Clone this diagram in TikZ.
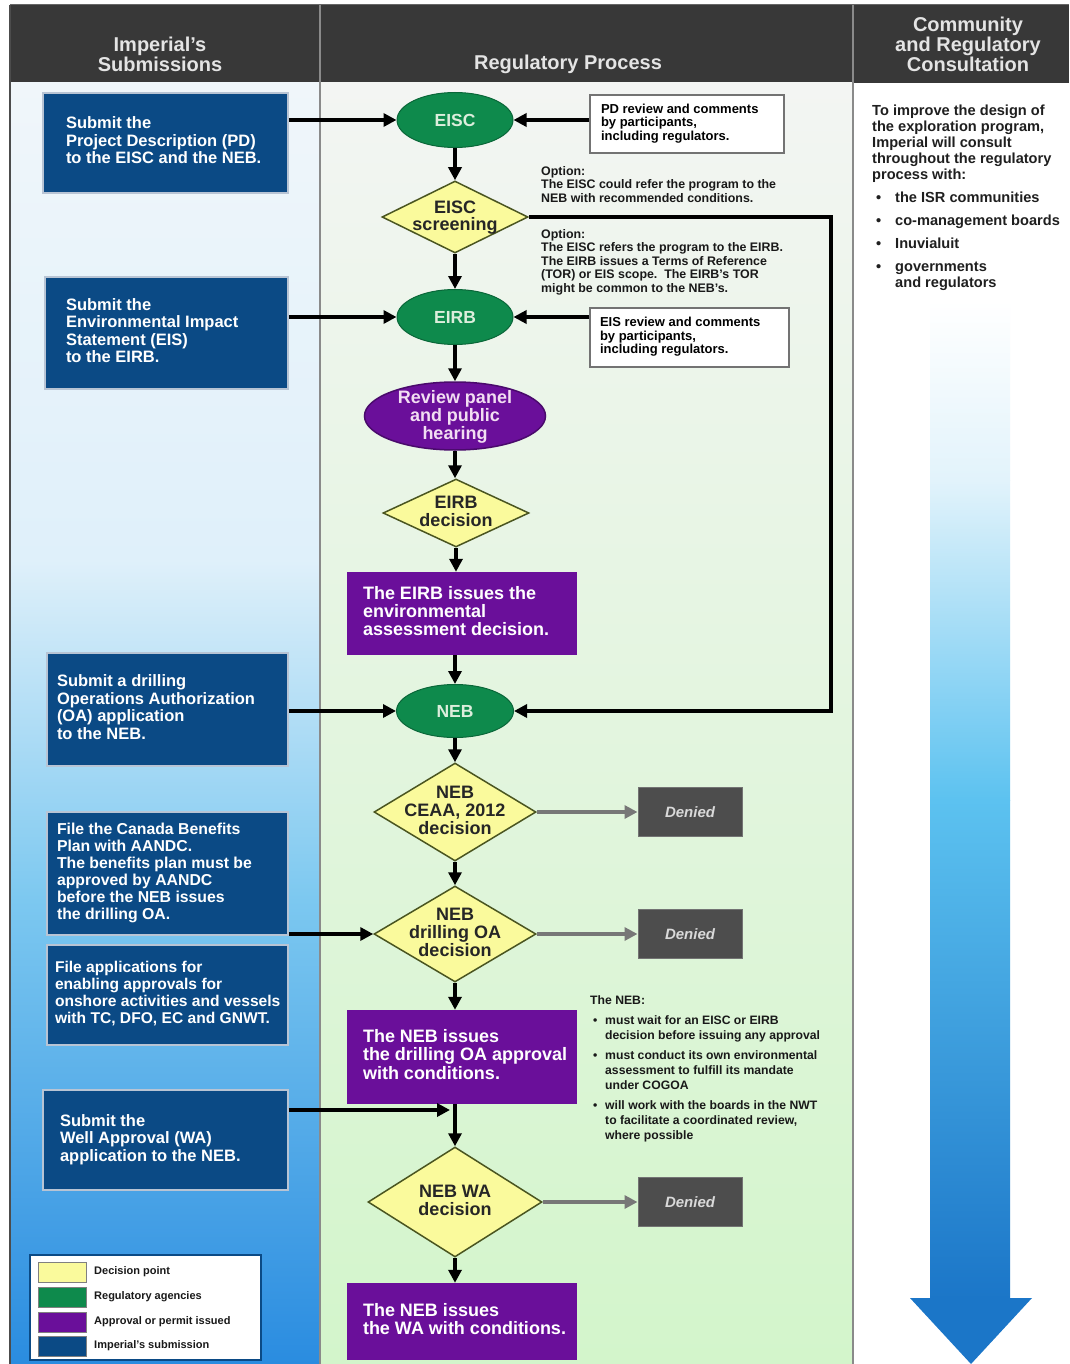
\documentclass[tikz,border=0pt]{standalone}
\usepackage{fontspec}
\setmainfont{Liberation Sans}
\usetikzlibrary{shapes.geometric,arrows.meta,calc}
\definecolor{hdr}{HTML}{383838}
\definecolor{hdrtxt}{HTML}{E4E4E4}
\definecolor{subblue}{HTML}{0B4A85}
\definecolor{subedge}{HTML}{B8C4D4}
\definecolor{agency}{HTML}{0E8A4C}
\definecolor{agtxt}{HTML}{DCEEDC}
\definecolor{approve}{HTML}{6A0F9A}
\definecolor{revtxt}{HTML}{F2DEF2}
\definecolor{decis}{HTML}{FAFA9C}
\definecolor{decedge}{HTML}{4A5520}
\definecolor{denied}{HTML}{4D4D4D}
\definecolor{divider}{HTML}{8A8A8A}
\definecolor{arrgray}{HTML}{777777}
\definecolor{lcA}{HTML}{F0F6FA}
\definecolor{lcB}{HTML}{DFF0FA}
\definecolor{lcC}{HTML}{7CC8F0}
\definecolor{lcD}{HTML}{2A8CE0}
\definecolor{mcA}{HTML}{F3F5F3}
\definecolor{mcB}{HTML}{D3F5CB}
\definecolor{baA}{HTML}{E2F3FB}
\definecolor{baB}{HTML}{5CC2F0}
\definecolor{baC}{HTML}{1B76C8}
\newcommand{\ctr}[1]{\smash{\makebox[0pt]{\raisebox{-0.3em}{\begin{tabular}{@{}c@{}}#1\end{tabular}}}}}
\newcommand{\lb}[2]{\makebox[#1][l]{\begin{tabular}{@{}l@{}}#2\end{tabular}}}
\newcommand{\nbul}{\makebox[15pt][l]{\hspace{3pt}•}}
\newcommand{\nind}{\makebox[15pt]{}}
\newcommand{\rbul}{\makebox[23pt][l]{\hspace{4pt}•}}
\newcommand{\rind}{\makebox[23pt]{}}
\begin{document}
\begin{tikzpicture}[x=1pt,y=-1pt,
  hdrtext/.style={text=hdrtxt, font=\fontsize{20}{20}\selectfont\bfseries, align=center, inner sep=0},
  subbox/.style={rectangle, fill=subblue, draw=subedge, line width=1.5pt, text=white, font=\fontsize{16.5}{17.5}\selectfont\bfseries, inner sep=0pt},
  agencynode/.style={ellipse, fill=agency, draw=agency!75!black, line width=1pt, text=agtxt, font=\fontsize{17.5}{18}\selectfont\bfseries, inner sep=0pt, minimum width=116pt, minimum height=55pt},
  decnode/.style={diamond, fill=decis, draw=decedge, line width=1.5pt, inner sep=0pt, text=black!85, font=\fontsize{18}{17.5}\selectfont\bfseries},
  apprbox/.style={rectangle, fill=approve, text=white, font=\fontsize{18}{17.5}\selectfont\bfseries, inner sep=0pt, minimum width=230pt},
  deniedbox/.style={rectangle, fill=denied, draw=black!55, line width=1pt, text=black!15, font=\fontsize{15}{16}\selectfont\bfseries\itshape, minimum width=104pt, minimum height=49pt},
  cmtbox/.style={rectangle, fill=white, draw=black!55, line width=1.5pt, font=\fontsize{13}{13.5}\selectfont\bfseries, inner sep=0pt},
  smalltext/.style={anchor=north west, inner sep=0pt, align=left, text=black!90, font=\fontsize{12.4}{13.6}\selectfont\bfseries},
  arr/.style={line width=3.5pt, -{Triangle[length=13pt,width=13pt]}},
  garr/.style={line width=3.5pt, draw=arrgray, -{Triangle[length=13pt,width=13pt]}, color=arrgray},
  swatch/.style={rectangle, draw=black!50, line width=0.8pt, minimum width=48pt, minimum height=20pt, inner sep=0pt},
  legtext/.style={anchor=west, inner sep=0pt, font=\fontsize{11}{12}\selectfont\bfseries, text=black!90}
]
\useasboundingbox (0,0) rectangle (1069,1364);
\fill[white] (0,0) rectangle (1069,1364);
% column backgrounds
\fill[hdr] (10,5) rectangle (1069,83);
\shade[top color=lcA, bottom color=lcB] (10,83) rectangle (320,560);
\shade[top color=lcB, bottom color=lcC] (10,560) rectangle (320,900);
\shade[top color=lcC, bottom color=lcD] (10,900) rectangle (320,1364);
\shade[top color=mcA, bottom color=mcB] (320,83) rectangle (853,1364);
\draw[divider, line width=2pt] (320,5) -- (320,1364);
\draw[divider, line width=2pt] (853,5) -- (853,1364);
\draw[black!70, line width=2pt] (10,5) -- (10,1364);
\draw[black!60, line width=1pt] (10,5) -- (1069,5);

% headers
\node[hdrtext] (h1) at (160,54) {Imperial's\\Submissions};
\node[hdrtext] (h2) at (568,64) {Regulatory Process};
\node[hdrtext] (h3) at (968,44) {Community\\and Regulatory\\Consultation};

% consultation arrow
\shade[top color=white, bottom color=baA] (930,300) rectangle (1010,480);
\shade[top color=baA, bottom color=baB] (930,480) rectangle (1010,800);
\shade[top color=baB, bottom color=baC] (930,800) rectangle (1010,1299);
\fill[baC] (910,1298) -- (1032,1298) -- (971,1364) -- cycle;

% submissions
\node[subbox, minimum width=245pt, minimum height=100pt] (s1) at (165.5,143) {\lb{199pt}{Submit the\\Project Description (PD)\\to the EISC and the NEB.}};
\node[subbox, minimum width=243pt, minimum height=112pt] (s2) at (166.5,333) {\lb{201pt}{Submit the\\Environmental Impact\\Statement (EIS)\\to the EIRB.}};
\node[subbox, minimum width=241pt, minimum height=113pt] (s3) at (167.5,709.5) {\lb{221pt}{Submit a drilling\\Operations Authorization\\(OA) application\\to the NEB.}};
\node[subbox, font=\fontsize{15.8}{17}\selectfont\bfseries, minimum width=241pt, minimum height=123pt] (s4) at (167.5,873.5) {\lb{221pt}{File the Canada Benefits\\Plan with AANDC.\\The benefits plan must be\\approved by AANDC\\before the NEB issues\\the drilling OA.}};
\node[subbox, font=\fontsize{15.6}{17}\selectfont\bfseries, minimum width=241pt, minimum height=100pt] (s5) at (167.5,995) {\lb{225pt}{File applications for\\enabling approvals for\\onshore activities and vessels\\with TC, DFO, EC and GNWT.}};
\node[subbox, minimum width=245pt, minimum height=100pt] (s6) at (165.5,1140) {\lb{211pt}{Submit the\\Well Approval (WA)\\application to the NEB.}};
\coordinate (b45) at (289,934);

% process nodes
\node[agencynode] (eisc) at (455,120) {EISC};
\node[decnode, font=\fontsize{18}{16}\selectfont\bfseries, minimum width=146pt, minimum height=72pt] (screen) at (455,217) {\ctr{EISC\\screening}};
\node[agencynode] (eirb) at (455,317) {EIRB};
\node[ellipse, fill=approve, draw=approve!70!black, line width=1.5pt, text=revtxt, font=\fontsize{18}{16.5}\selectfont\bfseries, inner sep=0pt, minimum width=181pt, minimum height=68pt] (review) at (455,416) {\ctr{Review panel\\and public\\hearing}};
\node[decnode, minimum width=146pt, minimum height=68pt] (eirbdec) at (456,513) {\ctr{EIRB\\decision}};
\node[apprbox, minimum height=83pt] (eirbiss) at (462,613.5) {\lb{198pt}{The EIRB issues the\\environmental\\assessment decision.}};
\node[agencynode, minimum width=117pt, minimum height=53pt] (neb) at (455,711) {NEB};
\node[decnode, minimum width=162pt, minimum height=98pt] (ceaa) at (455,812) {\ctr{NEB\\CEAA, 2012\\decision}};
\node[decnode, minimum width=162pt, minimum height=96pt] (oadec) at (455,934) {\ctr{NEB\\drilling OA\\decision}};
\node[apprbox, minimum height=94pt] (oaappr) at (462,1057) {\lb{198pt}{The NEB issues\\the drilling OA approval\\with conditions.}};
\node[decnode, minimum width=174pt, minimum height=110pt] (wadec) at (455,1202) {\ctr{NEB WA\\decision}};
\node[apprbox, minimum height=77pt] (waiss) at (462,1321.5) {\lb{198pt}{The NEB issues\\the WA with conditions.}};
\coordinate (join) at (450,1110);

% denied
\node[deniedbox] (d1) at (690,812) {Denied};
\node[deniedbox] (d2) at (690,934) {Denied};
\node[deniedbox] (d3) at (690,1202) {Denied};

% comment boxes
\node[cmtbox, minimum width=194pt, minimum height=58pt] (pdc) at (687,124) {\lb{172pt}{PD review and comments\\by participants,\\including regulators.}};
\node[cmtbox, minimum width=199pt, minimum height=59pt] (eisr) at (689.5,337.5) {\lb{179pt}{EIS review and comments\\by participants,\\including regulators.}};

% option texts
\node[smalltext] (opt1) at (541,166) {Option:\\The EISC could refer the program to the\\NEB with recommended conditions.};
\node[smalltext] (opt2) at (541,229) {Option:\\The EISC refers the program to the EIRB.\\The EIRB issues a Terms of Reference\\(TOR) or EIS scope.\ \ The EIRB's TOR\\might be common to the NEB's.};

% NEB note
\node[anchor=north west, inner sep=0pt, align=left, text=black!90, font=\fontsize{12.2}{15}\selectfont\bfseries] (nebnote) at (590,995) {The NEB:\\[5pt]
\nbul must wait for an EISC or EIRB\\
\nind decision before issuing any approval\\[5pt]
\nbul must conduct its own environmental\\
\nind assessment to fulfill its mandate\\
\nind under COGOA\\[5pt]
\nbul will work with the boards in the NWT\\
\nind to facilitate a coordinated review,\\
\nind where possible};

% consultation text
\node[anchor=north west, inner sep=0pt, align=left, text=black!88, font=\fontsize{14.6}{16}\selectfont\bfseries] (consult) at (872,105) {To improve the design of\\the exploration program,\\Imperial will consult\\throughout the regulatory\\process with:\\[7pt]
\rbul the ISR communities\\[7pt]
\rbul co-management boards\\[7pt]
\rbul Inuvialuit\\[7pt]
\rbul governments\\
\rind and regulators};

% legend
\node[rectangle, fill=white, draw=subblue, line width=2pt, minimum width=231pt, minimum height=105pt] (legend) at (145.5,1307.5) {};
\node[swatch, fill=decis] (sw1) at (62,1272) {};
\node[swatch, fill=agency] (sw2) at (62,1297) {};
\node[swatch, fill=approve] (sw3) at (62,1322) {};
\node[swatch, fill=subblue] (sw4) at (62,1346) {};
\node[legtext] (lt1) at (94,1272) {Decision point};
\node[legtext] (lt2) at (94,1297) {Regulatory agencies};
\node[legtext] (lt3) at (94,1322) {Approval or permit issued};
\node[legtext] (lt4) at (94,1346) {Imperial's submission};

% connectors
\draw[arr] (s1.east |- eisc) -- (eisc.west);
\draw[arr] (pdc.west |- eisc) -- (eisc.east);
\draw[arr] (eisc) -- (screen);
\draw[arr] (screen) -- (eirb);
\draw[arr] (s2.east |- eirb) -- (eirb.west);
\draw[arr] (eisr.west |- eirb) -- (eirb.east);
\draw[arr] (eirb) -- (review);
\draw[arr] (review.south) -- (eirbdec.north -| review.south);
\draw[arr] (eirbdec.south) -- (eirbiss.north -| eirbdec.south);
\draw[arr] (eirbiss.south -| neb) -- (neb.north);
\coordinate (loop) at (831,217);
\draw[arr] (screen.east) -- (loop) |- (neb.east);
\draw[arr] (s3.east |- neb) -- (neb.west);
\draw[arr] (neb) -- (ceaa);
\draw[arr] (ceaa) -- (oadec);
\draw[arr] (b45) -- (oadec.west);
\draw[arr] (oadec.south) -- (oaappr.north -| oadec.south);
\draw[arr] (oaappr.south -| wadec) -- (wadec.north);
\draw[arr] (s6.east |- join) -- (join);
\draw[arr] (wadec.south) -- (waiss.north -| wadec.south);
\draw[garr] (ceaa.east) -- (d1.west);
\draw[garr] (oadec.east) -- (d2.west);
\draw[garr] (wadec.east) -- (d3.west);
\end{tikzpicture}
\end{document}
